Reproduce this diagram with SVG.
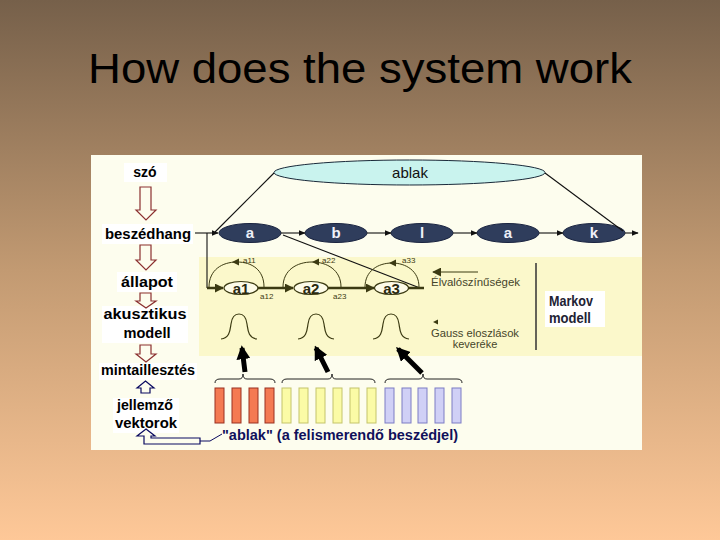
<svg xmlns="http://www.w3.org/2000/svg" width="720" height="540" viewBox="0 0 720 540">
<defs>
<linearGradient id="bg" x1="0" y1="0" x2="0" y2="1">
<stop offset="0" stop-color="#76604a"/>
<stop offset="0.5" stop-color="#c29a72"/>
<stop offset="1" stop-color="#fec898"/>
</linearGradient>
<marker id="ah" viewBox="0 0 10 10" refX="9" refY="5" markerWidth="7" markerHeight="7" markerUnits="userSpaceOnUse" orient="auto">
<path d="M0,1 L10,5 L0,9 Z" fill="#111"/>
</marker>
<marker id="ao" viewBox="0 0 10 10" refX="9" refY="5" markerWidth="9" markerHeight="9" markerUnits="userSpaceOnUse" orient="auto">
<path d="M0,0 L10,5 L0,10 Z" fill="#3b3a12"/>
</marker>
<marker id="ab" viewBox="0 0 10 10" refX="8" refY="5" markerWidth="14" markerHeight="14" markerUnits="userSpaceOnUse" orient="auto">
<path d="M0,0 L10,5 L0,10 Z" fill="#000"/>
</marker>
<style>
.lbl{font-family:"Liberation Sans",Arial,sans-serif;font-weight:bold;font-size:14px;fill:#000;text-anchor:middle}
.box{fill:#fff}
.down{fill:#fdfdee;stroke:#8b3030;stroke-width:1.2}
.up{fill:#fdfdee;stroke:#0a0a60;stroke-width:1.2}
.node{fill:#2f3d5c;stroke:#1a2440;stroke-width:1}
.ntxt{font-family:"Liberation Sans",Arial,sans-serif;font-weight:bold;font-size:15px;fill:#eef0f8;text-anchor:middle}
.ln{stroke:#111;stroke-width:1.1;fill:none}
.hl{stroke:#3b3a12;stroke-width:2.5;fill:none}
.st{fill:#fdfbe8;stroke:#3b3a12;stroke-width:1.2}
.stt{font-family:"Liberation Sans",Arial,sans-serif;font-weight:bold;font-size:15px;fill:#2a2a10;text-anchor:middle}
.loop{stroke:#3b3a12;stroke-width:1;fill:none}
.sm{font-family:"Liberation Sans",Arial,sans-serif;font-size:8px;fill:#3b3a12}
.note{font-family:"Liberation Sans",Arial,sans-serif;font-size:11px;fill:#45452a}
.bell{stroke:#3b3a12;stroke-width:1.2;fill:none}
.brace{stroke:#222;stroke-width:1;fill:none}
.red{fill:#f47a52;stroke:#9a3020;stroke-width:1}
.yel{fill:#fbfba6;stroke:#c4c46a;stroke-width:1}
.blu{fill:#d0d0f6;stroke:#7c7cc4;stroke-width:1}
.mk{font-family:"Liberation Sans",Arial,sans-serif;font-weight:bold;font-size:14px;fill:#222233}
</style>
</defs>
<rect x="0" y="0" width="720" height="540" fill="url(#bg)"/>
<text x="360" y="83" font-family="'Liberation Sans',Arial,sans-serif" font-size="42" text-anchor="middle" textLength="544" lengthAdjust="spacingAndGlyphs" fill="#000">How does the system work</text>

<rect x="91" y="155" width="551" height="295" fill="#fdfdee"/>
<rect x="199" y="257" width="443" height="99" fill="#fbf8cb"/>

<g id="left-labels">
<g id="szo"><rect class="box" x="124" y="163" width="43" height="19"/><text class="lbl" x="145" y="177" font-size="13">szó</text></g>
<g id="beszedhang"><rect class="box" x="102" y="224" width="91" height="20"/><text class="lbl" x="148" y="239" textLength="86" lengthAdjust="spacingAndGlyphs">beszédhang</text></g>
<g id="allapot"><rect class="box" x="117" y="272" width="60" height="20"/><text class="lbl" x="147" y="287" textLength="52" lengthAdjust="spacingAndGlyphs">állapot</text></g>
<g id="akusztikus"><rect class="box" x="102" y="306" width="86" height="37"/><text class="lbl" x="145" y="319" textLength="83" lengthAdjust="spacingAndGlyphs">akusztikus</text><text class="lbl" x="147" y="338" textLength="47" lengthAdjust="spacingAndGlyphs">modell</text></g>
<g id="mintaillesztes"><rect class="box" x="99" y="363" width="98" height="17"/><text class="lbl" x="148" y="375" textLength="94" lengthAdjust="spacingAndGlyphs">mintaillesztés</text></g>
<g id="jellemzo"><rect class="box" x="113" y="398" width="66" height="35"/><text class="lbl" x="145" y="410" textLength="56" lengthAdjust="spacingAndGlyphs">jellemző</text><text class="lbl" x="146" y="428" textLength="62" lengthAdjust="spacingAndGlyphs">vektorok</text></g>
</g>

<g id="left-arrows">
<path class="down" d="M140,187 L151,187 L151,210 L156,210 L146,220 L136,210 L140,210 Z"/>
<path class="down" d="M140,245 L151,245 L151,260 L156,260 L146,270 L136,260 L140,260 Z"/>
<path class="down" d="M140,293 L151,293 L151,301 L156,301 L146,308 L136,301 L140,301 Z"/>
<path class="down" d="M140,345 L151,345 L151,354 L156,354 L146,362 L136,354 L140,354 Z"/>
<path class="up" d="M141,393 L150,393 L150,388 L154,388 L145.5,381 L137,388 L141,388 Z"/>
<path class="up" d="M146,429 L155,436 L151,436 L151,438 L200,438 L200,444 L144,444 L144,436 L137,436 Z"/>
<polyline points="200,441 210,441 222,434" fill="none" stroke="#0a0a60" stroke-width="1"/>
</g>

<g id="ablak-ellipse"><ellipse cx="409.5" cy="172.5" rx="135.5" ry="12.5" fill="#c9f3ee" stroke="#1a2a3a" stroke-width="1"/><text x="410" y="178" font-family="'Liberation Sans',Arial,sans-serif" font-size="15" fill="#111" text-anchor="middle">ablak</text></g>

<g id="phone-nodes">
<g id="n-a1"><ellipse class="node" cx="250" cy="233" rx="31" ry="9.5"/><text class="ntxt" x="250" y="238">a</text></g>
<g id="n-b"><ellipse class="node" cx="336" cy="233" rx="31" ry="9.5"/><text class="ntxt" x="336" y="238">b</text></g>
<g id="n-l"><ellipse class="node" cx="422" cy="233" rx="31" ry="9.5"/><text class="ntxt" x="422" y="238">l</text></g>
<g id="n-a2"><ellipse class="node" cx="508" cy="233" rx="31" ry="9.5"/><text class="ntxt" x="508" y="238">a</text></g>
<g id="n-k"><ellipse class="node" cx="594" cy="233" rx="31" ry="9.5"/><text class="ntxt" x="594" y="238">k</text></g>
</g>

<g id="states">
<g id="s-a1"><ellipse class="st" cx="241" cy="288" rx="17" ry="6.5"/><text class="stt" x="241" y="294">a1</text></g>
<g id="s-a2"><ellipse class="st" cx="311" cy="288" rx="17" ry="6.5"/><text class="stt" x="311" y="294">a2</text></g>
<g id="s-a3"><ellipse class="st" cx="391.5" cy="288" rx="17" ry="6.5"/><text class="stt" x="391.5" y="294">a3</text></g>
</g>

<g id="connectors">
<line class="ln" x1="274" y1="173" x2="215" y2="232"/>
<line class="ln" x1="545" y1="173" x2="623" y2="231"/>
<line class="ln" x1="195" y1="233" x2="218" y2="233" marker-end="url(#ah)"/>
<line class="ln" x1="281" y1="233" x2="305" y2="233" marker-end="url(#ah)"/>
<line class="ln" x1="367" y1="233" x2="391" y2="233" marker-end="url(#ah)"/>
<line class="ln" x1="453" y1="233" x2="477" y2="233" marker-end="url(#ah)"/>
<line class="ln" x1="539" y1="233" x2="563" y2="233" marker-end="url(#ah)"/>
<line class="ln" x1="625" y1="233" x2="638" y2="233" marker-end="url(#ah)"/>
<line class="ln" x1="207" y1="233" x2="207" y2="288"/>
<line class="ln" x1="283" y1="235" x2="420" y2="288"/>

<line class="hl" x1="207" y1="288" x2="223" y2="288" marker-end="url(#ao)"/>
<line class="hl" x1="258" y1="288" x2="293" y2="288" marker-end="url(#ao)"/>
<line class="hl" x1="328" y1="288" x2="374" y2="288" marker-end="url(#ao)"/>
<line class="hl" x1="408" y1="288" x2="424" y2="288"/>

<path class="loop" d="M209,287 C209,270 222,262 237,262 C252,262 264,270 264,287"/>
<path d="M232,262 L239,258.5 L239,265.5 Z" fill="#3b3a12"/>
<path class="loop" d="M283,287 C283,270 297,262 312,262 C327,262 341,270 341,287"/>
<path d="M312,262 L319,258.5 L319,265.5 Z" fill="#3b3a12"/>
<path class="loop" d="M365,287 C365,271 378,263 392,263 C406,263 419,271 419,287"/>
<path d="M389,263 L396,259.5 L396,266.5 Z" fill="#3b3a12"/>

<line x1="478" y1="272" x2="433" y2="272" stroke="#3b3a12" stroke-width="1.2" marker-end="url(#ao)"/>
<path d="M433,322 L438,319.5 L438,324.5 Z" fill="#3b3a12"/>
<line x1="536" y1="263" x2="536" y2="350" stroke="#333" stroke-width="1.5"/>

<line x1="245" y1="372" x2="242" y2="348" stroke="#000" stroke-width="5" marker-end="url(#ab)"/>
<line x1="328" y1="372" x2="316" y2="348" stroke="#000" stroke-width="5" marker-end="url(#ab)"/>
<line x1="422" y1="373" x2="398" y2="349" stroke="#000" stroke-width="5" marker-end="url(#ab)"/>
</g>

<g id="small-labels">
<text class="sm" x="243" y="263">a11</text>
<text class="sm" x="322" y="263">a22</text>
<text class="sm" x="402" y="263">a33</text>
<text class="sm" x="260" y="299">a12</text>
<text class="sm" x="333" y="299">a23</text>
</g>

<g id="bells">
<path class="bell" d="M221,339 C230,338 230,330 231,324 C232,316 235,314 239,314 C243,314 246,316 247,324 C248,330 248,338 257,339"/>
<path class="bell" d="M298,339 C307,338 307,330 308,324 C309,316 312,314 316,314 C320,314 323,316 324,324 C325,330 325,338 334,339"/>
<path class="bell" d="M373,339 C382,338 382,330 383,324 C384,316 387,314 391,314 C395,314 398,316 399,324 C400,330 400,338 409,339"/>
</g>

<g id="notes">
<text class="note" x="431" y="286" textLength="89" lengthAdjust="spacingAndGlyphs">Élvalószínűségek</text>
<text class="note" x="475" y="337" text-anchor="middle" textLength="88" lengthAdjust="spacingAndGlyphs">Gauss eloszlások</text>
<text class="note" x="475" y="348" text-anchor="middle">keveréke</text>
</g>

<g id="markov"><rect class="box" x="545" y="291" width="60" height="36"/><text class="mk" x="549" y="306" textLength="44" lengthAdjust="spacingAndGlyphs">Markov</text><text class="mk" x="549" y="323" textLength="42" lengthAdjust="spacingAndGlyphs">modell</text></g>

<g id="braces">
<path class="brace" d="M215,383 Q215,379 220,379 L239,379 Q243,379 243,374 Q243,379 247,379 L270,379 Q275,379 275,383"/>
<path class="brace" d="M282,383 Q282,379 287,379 L328,379 Q332,379 332,374 Q332,379 336,379 L370,379 Q375,379 375,383"/>
<path class="brace" d="M385,383 Q385,379 390,379 L419,379 Q423,379 423,374 Q423,379 427,379 L457,379 Q462,379 462,383"/>
</g>

<g id="bars">
<rect class="red" x="215" y="388" width="9" height="35"/>
<rect class="red" x="232" y="388" width="9" height="35"/>
<rect class="red" x="249" y="388" width="9" height="35"/>
<rect class="red" x="265" y="388" width="9" height="35"/>
<rect class="yel" x="282" y="388" width="9" height="35"/>
<rect class="yel" x="299" y="388" width="9" height="35"/>
<rect class="yel" x="316" y="388" width="9" height="35"/>
<rect class="yel" x="333" y="388" width="9" height="35"/>
<rect class="yel" x="350" y="388" width="9" height="35"/>
<rect class="yel" x="367" y="388" width="9" height="35"/>
<rect class="blu" x="385" y="388" width="9" height="35"/>
<rect class="blu" x="402" y="388" width="9" height="35"/>
<rect class="blu" x="418" y="388" width="9" height="35"/>
<rect class="blu" x="435" y="388" width="9" height="35"/>
<rect class="blu" x="452" y="388" width="9" height="35"/>
</g>

<text x="222" y="440" font-family="'Liberation Sans',Arial,sans-serif" font-weight="bold" font-size="14" fill="#10105a" textLength="236" lengthAdjust="spacingAndGlyphs">"ablak" (a felismerendő beszédjel)</text>
</svg>
